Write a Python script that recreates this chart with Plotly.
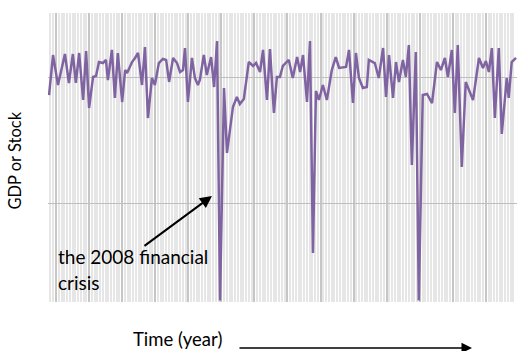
import plotly.graph_objects as go

# Time in decimal years and the GDP / stock indicator (arbitrary units)
years = [
    2003.79, 2003.91, 2004.06, 2004.27, 2004.39, 2004.51, 2004.60, 2004.70, 2004.82, 2004.91,
    2005.00, 2005.12, 2005.21, 2005.30, 2005.42, 2005.51, 2005.57, 2005.69, 2005.78, 2005.87,
    2006.00, 2006.09, 2006.15, 2006.30, 2006.39, 2006.48, 2006.60, 2006.69, 2006.78, 2006.90,
    2006.99, 2007.11, 2007.23, 2007.33, 2007.42, 2007.54, 2007.66, 2007.75, 2007.84, 2007.90,
    2007.99, 2008.11, 2008.20, 2008.29, 2008.35, 2008.47, 2008.56, 2008.69, 2008.78, 2008.87,
    2008.96, 2009.08, 2009.17, 2009.35, 2009.47, 2009.56, 2009.68, 2009.83, 2009.96, 2010.05,
    2010.17, 2010.26, 2010.38, 2010.47, 2010.59, 2010.68, 2010.77, 2010.86, 2011.04, 2011.16,
    2011.29, 2011.38, 2011.47, 2011.59, 2011.68, 2011.77, 2011.86, 2011.95, 2012.07, 2012.19,
    2012.34, 2012.46, 2012.56, 2012.77, 2012.86, 2012.98, 2013.07, 2013.16, 2013.28, 2013.40,
    2013.46, 2013.64, 2013.76, 2013.89, 2013.98, 2014.07, 2014.19, 2014.28, 2014.37, 2014.49,
    2014.58, 2014.67, 2014.76, 2014.88, 2014.97, 2015.09, 2015.22, 2015.37, 2015.52, 2015.64,
    2015.76, 2015.85, 2015.97, 2016.06, 2016.15, 2016.27, 2016.39, 2016.48, 2016.61, 2016.79,
    2016.91, 2017.00, 2017.09, 2017.18, 2017.27, 2017.39, 2017.48, 2017.63, 2017.69, 2017.78,
    2017.91,
]
values = [
    -1.42, 1.73, -0.63, 1.81, -0.47, 1.81, -0.47, 1.89, -1.81, 2.05,
    -2.44, 0.00, 0.08, 1.18, 1.10, 1.34, -0.24, 2.13, -1.65, 1.89,
    -1.97, 0.55, 0.31, 1.18, 1.50, 1.89, -0.63, 2.36, -3.23, -0.08,
    -0.63, 1.10, 1.42, 1.34, -0.39, 1.50, 1.10, 0.39, 0.55, 2.28,
    -1.97, 1.50, -0.08, -0.63, -0.24, 1.73, 0.16, 1.57, -0.79, 2.83,
    -17.6, -0.87, -5.98, -2.36, -1.57, -2.13, -1.73, 1.18, 0.87, 1.10,
    0.39, 2.13, -1.81, 2.20, -2.83, 0.00, 0.00, 0.87, 1.34, -0.08,
    1.57, 0.39, 1.73, -1.97, 2.83, -13.86, -1.10, -1.81, -0.63, -1.81,
    0.55, 1.57, 0.71, 0.79, 2.13, -2.05, 1.89, -0.08, -0.87, -0.79,
    1.34, 1.10, -0.08, 2.28, -1.57, 1.73, -1.65, 1.18, -0.39, 1.34,
    0.00, 2.52, -6.93, 1.97, -17.6, -1.42, -1.34, -2.05, 1.18, 0.55,
    1.50, 0.00, 2.13, -2.83, 2.52, -7.09, -0.39, -1.02, -1.81, 1.50,
    0.71, 1.26, 0.39, 2.28, -3.23, 2.28, -4.49, -0.08, -1.65, 1.18,
    1.50,
]

x_range = [2003.758, 2017.94]
y_range = [-17.72, 5.04]

fig = go.Figure()
fig.add_trace(go.Scatter(
    x=years, y=values, mode="lines",
    line=dict(color="#8064A2", width=2.5),
    hoverinfo="skip",
))

font_family = "Lato, 'Open Sans', sans-serif"

fig.update_layout(
    width=517, height=351,
    margin=dict(l=48, r=0, t=13, b=49),
    paper_bgcolor="white", plot_bgcolor="white",
    showlegend=False,
    font=dict(family=font_family, color="black"),
    xaxis=dict(
        range=x_range, tick0=2004, dtick=1,
        showgrid=True, gridcolor="#c6c6c6", gridwidth=1.5,
        minor=dict(dtick=1/12, tick0=2004, showgrid=True, gridcolor="#e6e6e6", gridwidth=1.5),
        showticklabels=False, zeroline=False, showline=False, ticks="",
    ),
    yaxis=dict(
        range=y_range, tick0=0, dtick=10,
        showgrid=True, gridcolor="#bfbfbf", gridwidth=1,
        showticklabels=False, zeroline=False, showline=False, ticks="",
    ),
    annotations=[
        dict(text="GDP or Stock", xref="paper", yref="paper", x=-0.070, y=0.49,
             showarrow=False, textangle=-90, font=dict(size=16.5, family=font_family),
             xanchor="center", yanchor="middle"),
        dict(text="the 2008 financial", xref="paper", yref="paper", x=0.017, y=0.156,
             showarrow=False, xanchor="left", yanchor="middle",
             font=dict(size=19, family=font_family)),
        dict(text="crisis", xref="paper", yref="paper", x=0.017, y=0.069,
             showarrow=False, xanchor="left", yanchor="middle",
             font=dict(size=19, family=font_family)),
        dict(text="", x=2008.716, y=-9.37, xref="x", yref="y",
             showarrow=True, ax=-69, ay=51, axref="pixel", ayref="pixel",
             arrowhead=2, arrowsize=1.2, arrowwidth=2, arrowcolor="black"),
        dict(text="Time (year)", xref="paper", yref="paper", x=0.277, y=-0.128,
             showarrow=False, xanchor="center", yanchor="middle",
             font=dict(size=18.5, family=font_family)),
        dict(text="", xref="paper", yref="paper", x=0.904, y=-0.159,
             showarrow=True, ax=-234, ay=0, arrowhead=2, arrowsize=1.4,
             arrowwidth=1.5, arrowcolor="black"),
    ],
)

fig.write_html("out.html", config={"displayModeBar": False},
               post_script="document.body.style.margin='0';document.body.style.overflow='hidden';")
